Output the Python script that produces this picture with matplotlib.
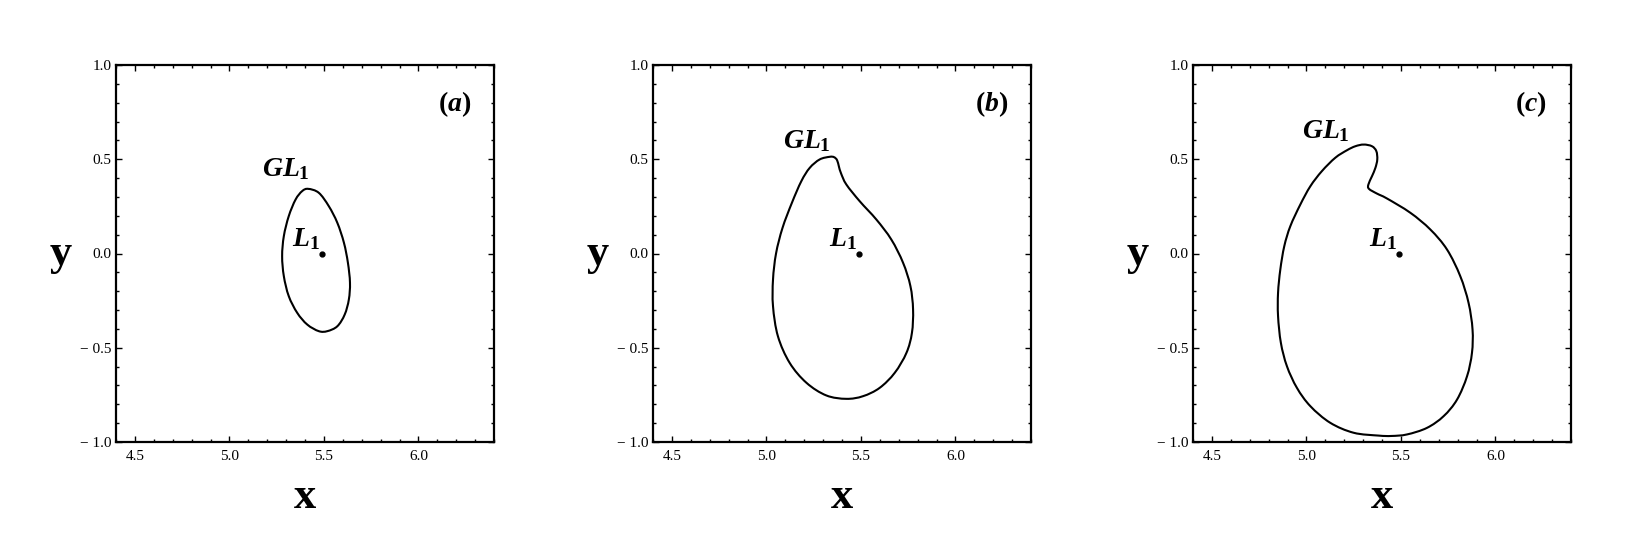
import numpy as np
import matplotlib
matplotlib.use("Agg")
import matplotlib.pyplot as plt
from matplotlib.path import Path
from matplotlib.patches import PathPatch
from matplotlib.ticker import MultipleLocator

plt.rcParams['font.family'] = ['Liberation Serif', 'DejaVu Serif']
plt.rcParams['mathtext.fontset'] = 'custom'
plt.rcParams['mathtext.it'] = 'Liberation Serif:italic:bold'
plt.rcParams['mathtext.rm'] = 'Liberation Serif:bold'
plt.rcParams['mathtext.bf'] = 'Liberation Serif:bold'

# ---- data ----
L1_x = 5.49
L1_y = 0.0

curve_a_x = [5.417, 5.473, 5.526, 5.571, 5.606, 5.627, 5.638, 5.632, 5.610, 5.571,
             5.518, 5.473, 5.412, 5.359, 5.314, 5.288, 5.279, 5.288, 5.314, 5.350,
             5.385]
curve_a_y = [0.343, 0.322, 0.251, 0.163, 0.057, -0.049, -0.155, -0.244, -0.324, -0.386,
             -0.412, -0.412, -0.377, -0.315, -0.226, -0.120, -0.014, 0.092, 0.198, 0.286,
             0.331]

curve_b_x = [5.335, 5.358, 5.374, 5.384, 5.395, 5.423, 5.494, 5.582, 5.661, 5.723,
             5.762, 5.776, 5.770, 5.741, 5.679, 5.599, 5.511, 5.423, 5.317, 5.212,
             5.123, 5.061, 5.035, 5.035, 5.051, 5.085, 5.135, 5.185, 5.229, 5.282]
curve_b_y = [0.513, 0.511, 0.495, 0.460, 0.425, 0.366, 0.277, 0.180, 0.074, -0.049,
             -0.173, -0.297, -0.421, -0.527, -0.633, -0.713, -0.757, -0.771, -0.753, -0.686,
             -0.580, -0.439, -0.280, -0.138, 0.000, 0.135, 0.269, 0.384, 0.454, 0.499]

curve_c_x = [5.303, 5.347, 5.370, 5.375, 5.365, 5.347, 5.328, 5.331, 5.373, 5.426,
             5.550, 5.656, 5.744, 5.814, 5.858, 5.879, 5.876, 5.850, 5.797, 5.726,
             5.638, 5.532, 5.450, 5.382, 5.250, 5.126, 5.021, 4.950, 4.897, 4.865,
             4.850, 4.850, 4.862, 4.883, 4.915, 4.968, 5.021, 5.082, 5.153, 5.215,
             5.259]
curve_c_y = [0.578, 0.569, 0.543, 0.499, 0.454, 0.410, 0.366, 0.343, 0.318, 0.292,
             0.216, 0.127, 0.021, -0.120, -0.262, -0.403, -0.527, -0.651, -0.775, -0.863,
             -0.925, -0.960, -0.968, -0.966, -0.951, -0.898, -0.810, -0.713, -0.598, -0.474,
             -0.332, -0.209, -0.085, 0.039, 0.145, 0.260, 0.357, 0.437, 0.508, 0.548,
             0.569]

panel_letters = ['a', 'b', 'c']
x_ticks = [4.5, 5.0, 5.5, 6.0]
y_ticks = [-1.0, -0.5, 0.0, 0.5, 1.0]


def smooth_closed_path(xs, ys):
    P = np.column_stack([xs, ys])
    n = len(P)
    verts = [P[0]]
    codes = [Path.MOVETO]
    for i in range(n):
        p0 = P[(i - 1) % n]
        p1 = P[i]
        p2 = P[(i + 1) % n]
        p3 = P[(i + 2) % n]
        c1 = p1 + (p2 - p0) / 6.0
        c2 = p2 - (p3 - p1) / 6.0
        verts += [c1, c2, p2]
        codes += [Path.CURVE4] * 3
    return Path(verts, codes)


fig = plt.figure(figsize=(16.25, 5.37), dpi=100)
lefts = [116 / 1625, 653 / 1625, 1193 / 1625]
bottom = 1 - 442 / 537
width = 378 / 1625
height = 377 / 537

curves = [(curve_a_x, curve_a_y), (curve_b_x, curve_b_y), (curve_c_x, curve_c_y)]
gl_pos = [(5.297, 0.446), (5.215, 0.594), (5.104, 0.647)]

for k in range(3):
    ax = fig.add_axes([lefts[k], bottom, width, height])
    ax.set_xlim(4.4, 6.4)
    ax.set_ylim(-1.0, 1.0)
    cx, cy = curves[k]
    ax.add_patch(PathPatch(smooth_closed_path(cx, cy), facecolor='none',
                           edgecolor='black', lw=1.5))
    ax.plot([L1_x], [L1_y], 'o', color='black', markersize=3.5)
    ax.text(gl_pos[k][0], gl_pos[k][1], r'$GL_{\mathit{1}}$', fontsize=20,
            ha='center', va='center')
    ax.text(L1_x - 0.01, L1_y + 0.005, r'$L_{\mathit{1}}$', fontsize=20,
            ha='right', va='bottom')
    ax.text(6.19, 0.79, r'$\mathbf{(}$' + r'$' + panel_letters[k] + r'$' + r'$\mathbf{)}$',
            fontsize=20, ha='center', va='center')

    ax.set_xticks(x_ticks)
    ax.set_yticks(y_ticks)
    ax.set_xticklabels([f'{v:.1f}' for v in x_ticks])
    ax.set_yticklabels([f'\u2212 {abs(v):.1f}' if v < 0 else f'{v:.1f}' for v in y_ticks])
    ax.xaxis.set_minor_locator(MultipleLocator(0.1))
    ax.yaxis.set_minor_locator(MultipleLocator(0.1))
    ax.tick_params(which='both', direction='in', top=True, right=True,
                   labelsize=11, width=1.0)
    ax.tick_params(which='major', length=4.5)
    ax.tick_params(which='minor', length=2.5)
    ax.tick_params(axis='x', pad=6)
    ax.tick_params(axis='y', pad=3)
    for sp in ax.spines.values():
        sp.set_linewidth(1.6)
    ax.set_xlabel('x', fontsize=32, fontweight='bold', labelpad=10)
    ax.set_ylabel('y', fontsize=32, fontweight='bold', rotation=0,
                  labelpad=14, va='center')

fig.savefig('out.png', dpi=100)
